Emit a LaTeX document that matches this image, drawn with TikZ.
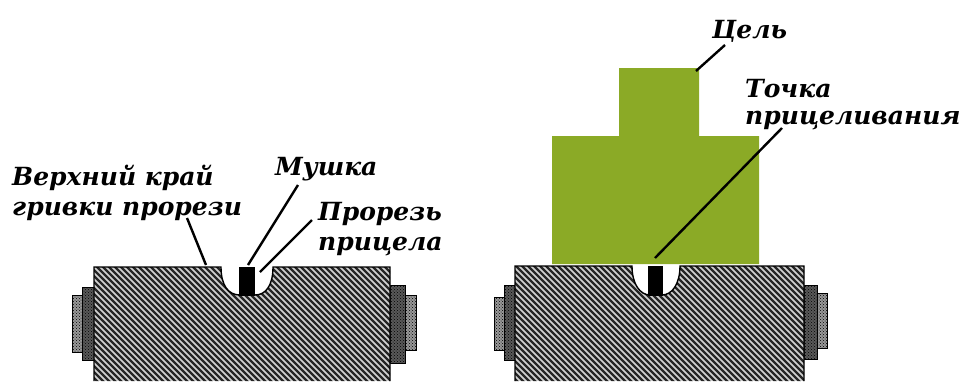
\documentclass[tikz,border=0pt]{standalone}
\usepackage{fontspec}
\setmainfont{DejaVu Serif}
\newfontfamily\capfont[BoldItalicFont={DejaVu Serif Bold Italic}]{DejaVu Serif}
\usetikzlibrary{calc, patterns}
\definecolor{targetgreen}{HTML}{8BAA26}
\tikzset{
  caption/.style={font=\capfont\bfseries\itshape\fontsize{25}{30}\selectfont, align=left, inner sep=0pt, anchor=base west},
  leader/.style={line width=2.4pt},
  stripes/.style={line width=2.2pt, black!85},
  knob/.style={draw=black, line width=1pt, preaction={fill=black!40}, pattern=crosshatch dots, pattern color=black},
  knobdark/.style={draw=black, line width=1pt, preaction={fill=black!65}, pattern=crosshatch dots, pattern color=black}
}

\begin{document}
\begin{tikzpicture}[x=1pt, y=-1pt]
  \useasboundingbox (0,0) rectangle (962,381);

  % target
  \fill[targetgreen] (552,264) -- (552,136) -- (619,136) -- (619,68) -- (699,68) -- (699,136) -- (759,136) -- (759,264) -- cycle;

  % left sight
  \draw[knob] (82,295) rectangle (72,352);
  \draw[knobdark] (94,287) rectangle (82,360);
  \draw[knobdark] (390,285) rectangle (405,363);
  \draw[knob] (405,295) rectangle (416,350);
  \begin{scope}
    \clip (94,381) -- (94,267) -- (221,267) .. controls (221,285) and (228,295) .. (240,295) -- (255,295) .. controls (266,295) and (273,285) .. (273,267) -- (390,267) -- (390,381) -- cycle;
    \fill[black!18] (90,260) rectangle (395,381);
    \foreach \d in {-300,-294,...,400}
      \draw[stripes] (\d,260) -- ({\d+130},390);
  \end{scope}
  \draw[line width=1.4pt] (94,381) -- (94,267) -- (221,267) .. controls (221,285) and (228,295) .. (240,295) -- (255,295) .. controls (266,295) and (273,285) .. (273,267) -- (390,267) -- (390,381);
  \fill (239,267) rectangle (255,296);

  % right sight
  \draw[knob] (504,297) rectangle (494,350);
  \draw[knobdark] (515,285) rectangle (504,360);
  \draw[knobdark] (804,285) rectangle (817,359);
  \draw[knob] (817,293) rectangle (827,348);
  \begin{scope}
    \clip (515,381) -- (515,266) -- (632,266) .. controls (632,284) and (640,295) .. (650,295) -- (662,295) .. controls (672,295) and (680,284) .. (680,266) -- (804,266) -- (804,381) -- cycle;
    \fill[black!18] (510,260) rectangle (810,381);
    \foreach \d in {120,126,...,820}
      \draw[stripes] (\d,260) -- ({\d+130},390);
  \end{scope}
  \draw[line width=1.4pt] (515,381) -- (515,266) -- (632,266) .. controls (632,284) and (640,295) .. (650,295) -- (662,295) .. controls (672,295) and (680,284) .. (680,266) -- (804,266) -- (804,381);
  \fill (648,266) rectangle (663,296);

  % labels
  \node[caption] (edge) at (12,215) {Верхний край\\гривки прорези};
  \node[caption] (post) at (275,175) {Мушка};
  \node[caption] (notch) at (318,250) {Прорезь\\прицела};
  \node[caption] (target) at (712,38) {Цель};
  \node[caption, font=\capfont\bfseries\itshape\fontsize{25}{27}\selectfont] (aimpoint) at (745,124) {Точка\\прицеливания};

  \coordinate (edgeEnd) at (206,265);
  \coordinate (postEnd) at (248,265);
  \coordinate (notchEnd) at (260,272);
  \coordinate (targetEnd) at (696,71);
  \coordinate (aimEnd) at (655,258);

  \draw[leader] ([xshift=175pt,yshift=-3pt]edge.base west) -- (edgeEnd);
  \draw[leader] ([xshift=23pt,yshift=-10pt]post.base west) -- (postEnd);
  \draw[leader] ([xshift=-6pt,yshift=30pt]notch.base west) -- (notchEnd);
  \draw[leader] ([xshift=13pt,yshift=-7pt]target.base west) -- (targetEnd);
  \draw[leader] ([xshift=37pt,yshift=-4pt]aimpoint.base west) -- (aimEnd);
\end{tikzpicture}
\end{document}
